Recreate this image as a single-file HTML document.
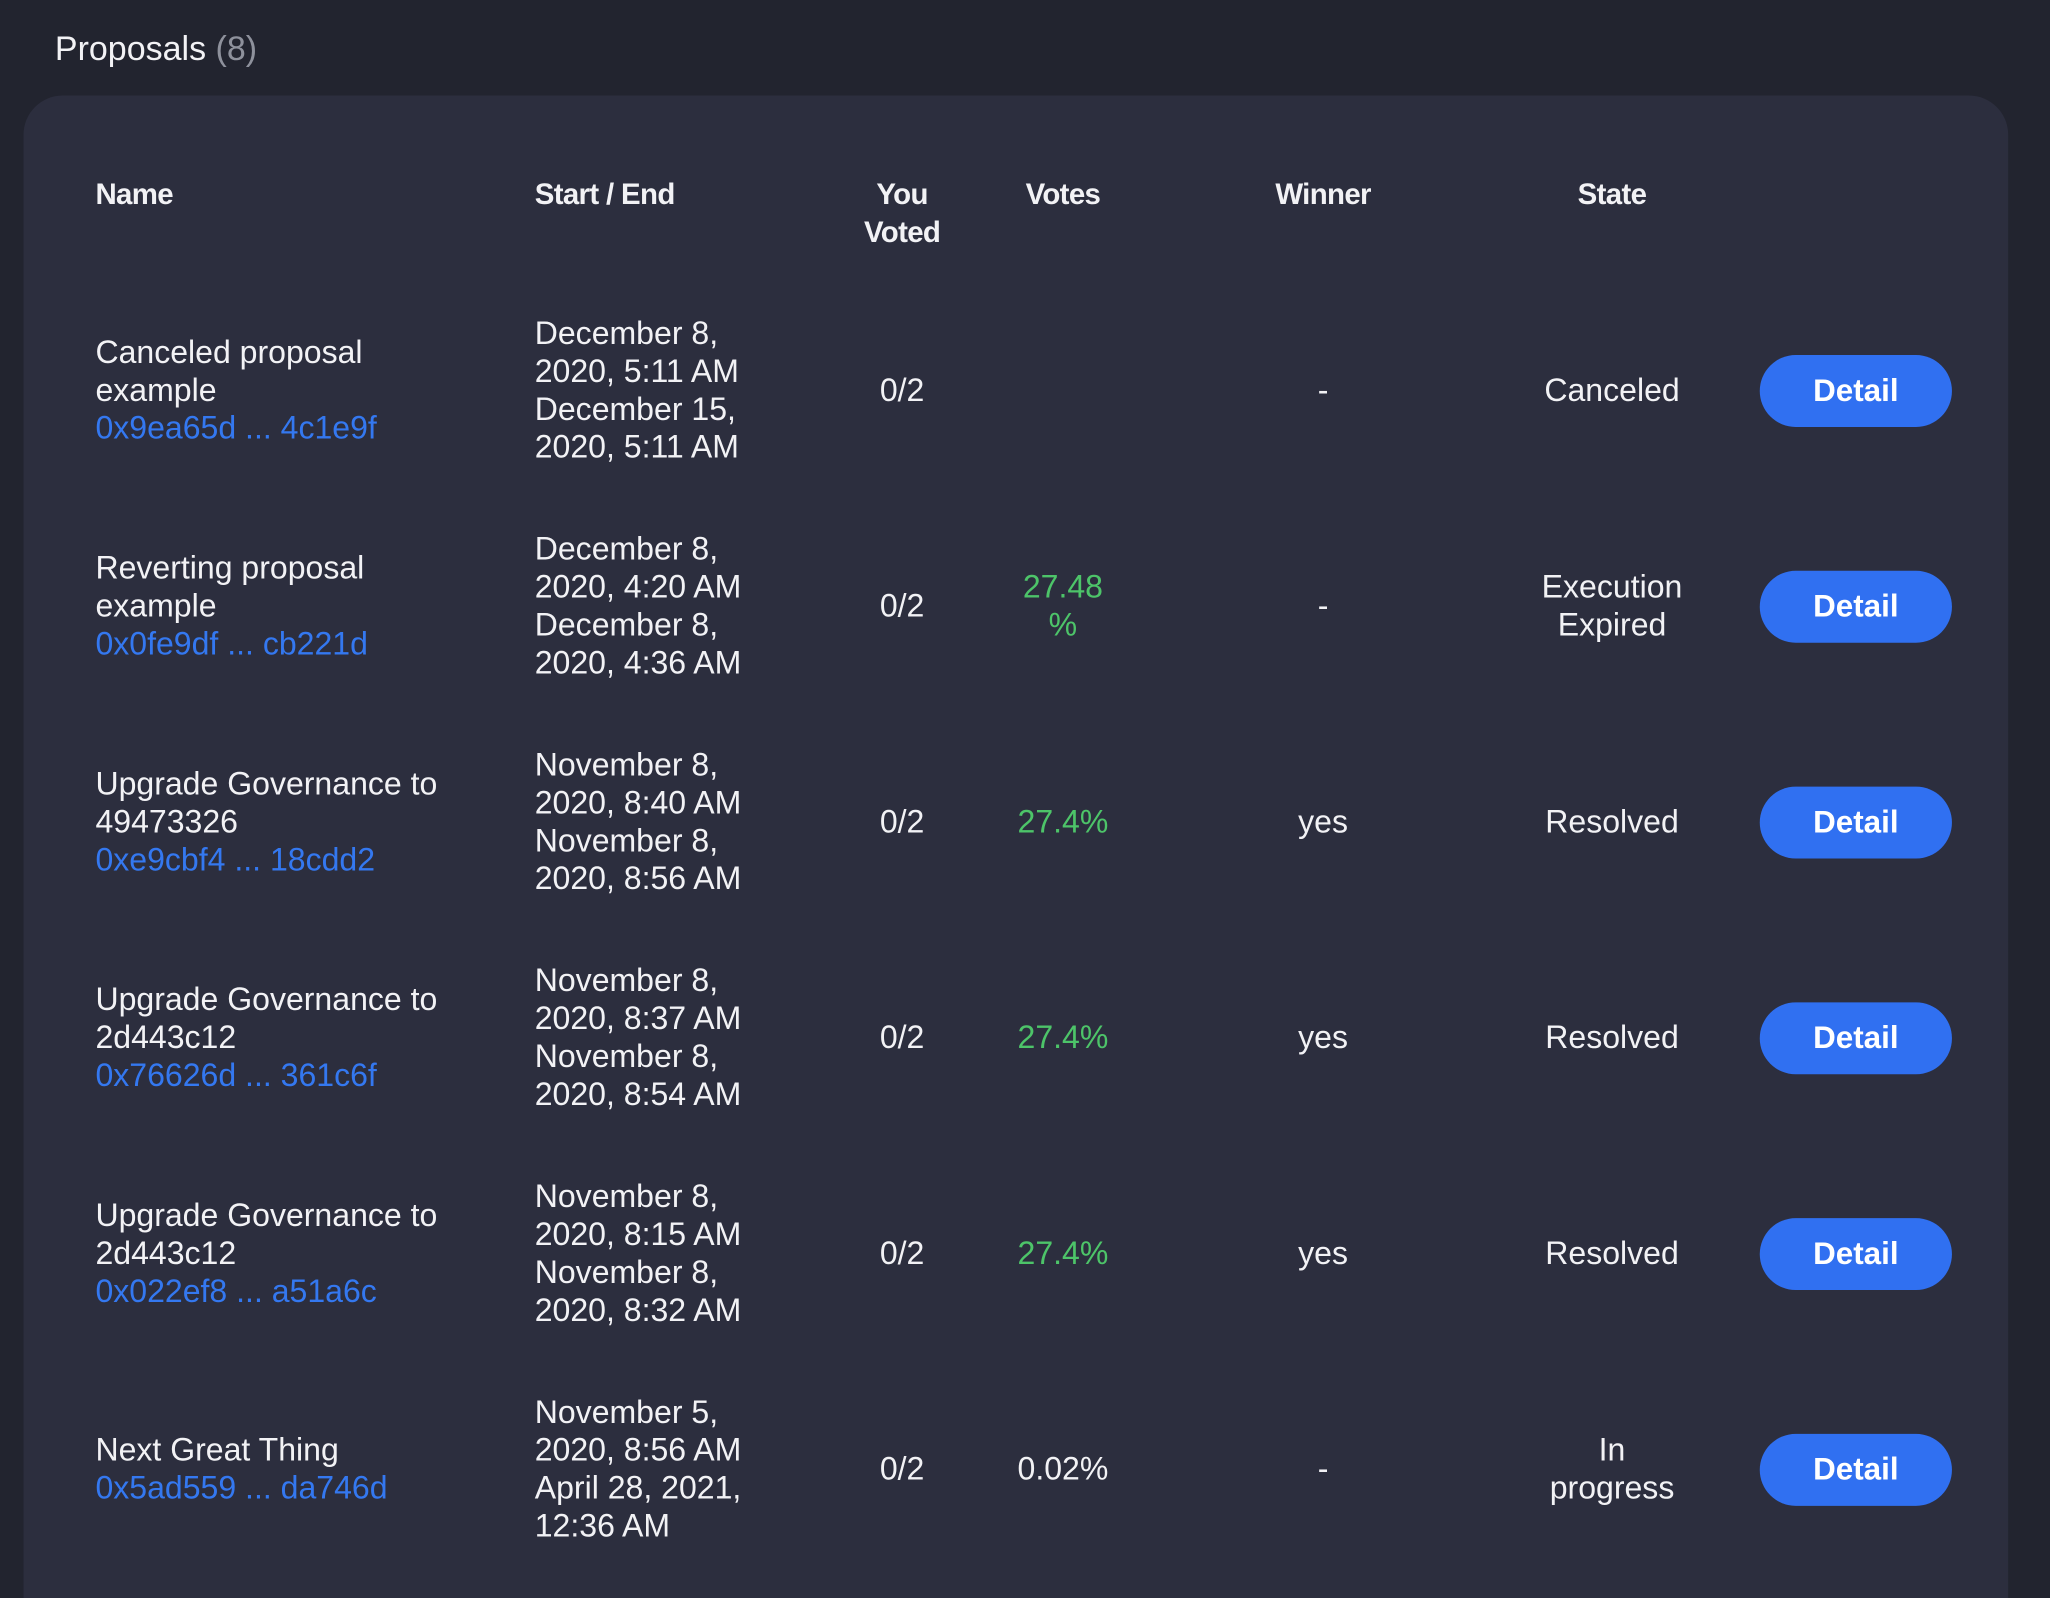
<!DOCTYPE html>
<html><head><meta charset="utf-8"><style>
html,body{margin:0;padding:0;width:2050px;height:1598px;overflow:hidden;background:#22242f;}
#wrap{position:absolute;left:0;top:0;width:1568px;height:1222px;overflow:hidden;transform:scale(1.3074,1.3077);transform-origin:0 0;font-family:"Liberation Sans",sans-serif;color:#f2f2f5;}
.title{position:absolute;left:42px;top:22px;font-size:26px;}
.title span{color:#8e919c;}
.panel{position:absolute;left:18px;top:73px;width:1518px;height:1200px;background:#2c2e3e;border-radius:30px;}
.h{position:absolute;font-weight:bold;font-size:22.5px;line-height:29px;letter-spacing:-0.5px;}
.c{position:absolute;font-size:24.5px;line-height:29px;white-space:nowrap;}
.ctr{text-align:center;transform:translate(-50%,-50%);}
.l{transform:translateY(-50%);}
.link{color:#3478f0;}
.green{color:#4dc469;}
.btn{position:absolute;left:1346px;width:147px;height:55px;border-radius:28px;background:#3070f1;color:#fff;font-weight:bold;font-size:24px;line-height:55px;text-align:center;transform:translateY(-50%);}
</style></head><body>
<div id="wrap">
<div class="title">Proposals <span>(8)</span></div>
<div class="panel"></div>
<div class="h" style="left:73px;top:134px">Name</div>
<div class="h" style="left:409px;top:134px">Start / End</div>
<div class="h" style="left:690px;top:134px;transform:translateX(-50%);text-align:center">You<br>Voted</div>
<div class="h" style="left:813px;top:134px;transform:translateX(-50%)">Votes</div>
<div class="h" style="left:1012px;top:134px;transform:translateX(-50%)">Winner</div>
<div class="h" style="left:1233px;top:134px;transform:translateX(-50%)">State</div>
<div id="rows"></div>
</div>
<script>
const names=[["Canceled proposal","example"],["Reverting proposal","example"],["Upgrade Governance to","49473326"],["Upgrade Governance to","2d443c12"],["Upgrade Governance to","2d443c12"],["Next Great Thing"]];
const hashes=["0x9ea65d ... 4c1e9f","0x0fe9df ... cb221d","0xe9cbf4 ... 18cdd2","0x76626d ... 361c6f","0x022ef8 ... a51a6c","0x5ad559 ... da746d"];
const dates=[["December 8,","2020, 5:11 AM","December 15,","2020, 5:11 AM"],["December 8,","2020, 4:20 AM","December 8,","2020, 4:36 AM"],["November 8,","2020, 8:40 AM","November 8,","2020, 8:56 AM"],["November 8,","2020, 8:37 AM","November 8,","2020, 8:54 AM"],["November 8,","2020, 8:15 AM","November 8,","2020, 8:32 AM"],["November 5,","2020, 8:56 AM","April 28, 2021,","12:36 AM"]];
const voted=["0/2","0/2","0/2","0/2","0/2","0/2"];
const votes=["","27.48<br>%","27.4%","27.4%","27.4%","0.02%"];
const voteGreen=[false,true,true,true,true,false];
const winners=["-","-","yes","yes","yes","-"];
const states=["Canceled","Execution<br>Expired","Resolved","Resolved","Resolved","In<br>progress"];
const rows=document.getElementById('rows');
function add(cls,x,y,html,name,inter){
  const d=document.createElement('div');
  d.className=cls;
  d.style.left=x+'px';d.style.top=y+'px';
  d.innerHTML=html;
  
  
  rows.appendChild(d);
  return d;
}
names.forEach((n,i)=>{
  const y=299+i*165;
  add('c l',73,y,n.join('<br>')+'<br><span class="link">'+hashes[i]+'</span>','proposal-name',false);
  add('c l',409,y,dates[i].join('<br>'),'start-end-date',false);
  add('c ctr',690,y,voted[i],'you-voted',false);
  add('c ctr'+(voteGreen[i]?' green':''),813,y,votes[i],'votes-value',false);
  add('c ctr',1012,y,winners[i],'winner',false);
  add('c ctr',1233,y,states[i],'state',false);
  add('btn',1346,y,'Detail','detail-button',true);
});
</script>
</body></html>
